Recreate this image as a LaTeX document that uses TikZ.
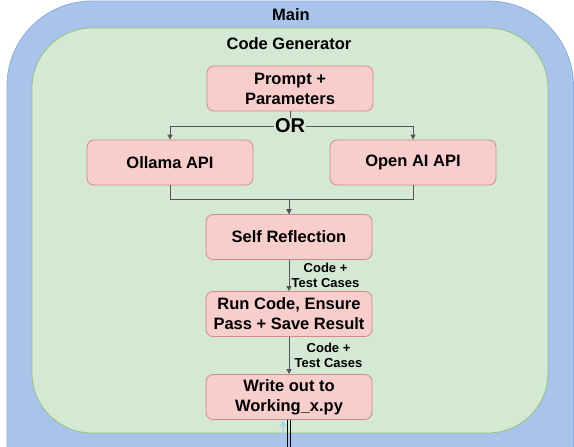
\documentclass[tikz,border=0pt]{standalone}
\usepackage{fontspec}
\setmainfont{Liberation Sans}
\usetikzlibrary{arrows.meta}
\definecolor{blueF}{HTML}{A9C4EB}
\definecolor{blueS}{HTML}{8EACDB}
\definecolor{greenF}{HTML}{D5E8D4}
\definecolor{greenS}{HTML}{97C27F}
\definecolor{pinkF}{HTML}{F8CECC}
\definecolor{pinkS}{HTML}{D08A88}
\definecolor{connC}{HTML}{555555}
\definecolor{ghostC}{HTML}{9FD0F0}
\tikzset{
  titlelab/.style={font=\fontsize{16.5}{20}\selectfont\bfseries, inner sep=0pt},
  box/.style={draw=pinkS, fill=pinkF, line width=0.8pt, rounded corners=7pt,
    minimum width=166pt, minimum height=45pt, align=center, inner sep=0pt,
    font=\fontsize{16.5}{20}\selectfont\bfseries},
  conn/.style={draw=connC, line width=1pt, -{Triangle[width=5pt,length=5pt]}},
  orlab/.style={fill=greenF, inner sep=1pt, font=\fontsize{20}{22}\selectfont\bfseries},
  edgelab/.style={font=\fontsize{13}{15}\selectfont\bfseries, align=center, inner sep=0pt, anchor=west},
  railline/.style={draw=black, line width=0.7pt}
}
\begin{document}
\begin{tikzpicture}[x=1pt,y=-1pt]
\useasboundingbox (0,0) rectangle (574,447);
\clip (0,0) rectangle (574,447);
% containers
\path[draw=blueS, fill=blueF, line width=0.8pt, rounded corners=85pt] (7,1) rectangle (573.5,560);
\path[draw=greenS, fill=greenF, line width=0.8pt, rounded corners=60pt] (32,28) rectangle (548,433);
\node[titlelab] (main) at (291,15) {Main};
\node[titlelab] (cg) at (289,44) {Code Generator};
% boxes
\node[box] (prompt) at (290,88.5) {Prompt +\\Parameters};
\node[box] (ollama) at (170,162.5) {Ollama API};
\node[box] (openai) at (413,162.5) {Open AI API};
\node[box] (self) at (289,237) {Self Reflection};
\node[box] (run) at (289,314) {Run Code, Ensure\\Pass + Save Result};
\node[box] (write) at (289,397) {Write out to\\Working\_x.py};
% connectors
\draw[conn] (prompt.south) -- ++(0,15) -| (ollama.north);
\draw[conn] (prompt.south) -- ++(0,15) -| (openai.north);
\path (prompt.south) ++(0,14.5) node[orlab] (or) {OR};
\draw[conn] (ollama.south) -- ++(0,14.5) -| (self.north);
\draw[conn] (openai.south) -- ++(0,14.5) -| (self.north);
\draw[conn] (self.south) -- (run.north);
\node[edgelab] (lab1) at (291.5,275.5) {Code +\\Test Cases};
\draw[conn] (run.south) -- (write.north);
\node[edgelab] (lab2) at (294.5,355.5) {Code +\\Test Cases};
% bottom
\coordinate (bot) at (289,452);
\coordinate (ghostbot) at (283,452);
\coordinate (ghosttop) at (283,420);
\draw[ghostC, opacity=0.7, line width=2pt, -{Triangle[width=7pt,length=6pt]}] (ghostbot) -- (ghosttop);
\draw[railline] ([xshift=-1.7pt]write.south) -- ([xshift=-1.7pt]bot);
\draw[railline] ([xshift=1.7pt]write.south) -- ([xshift=1.7pt]bot);
\end{tikzpicture}
\end{document}
